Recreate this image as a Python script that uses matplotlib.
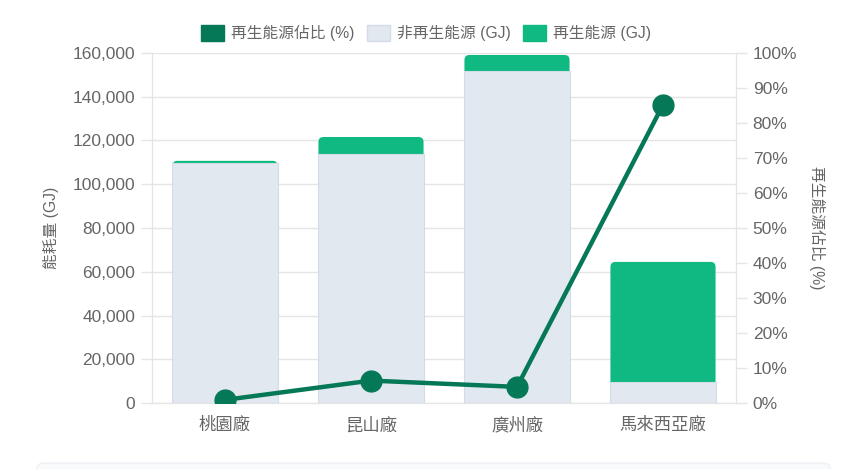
import matplotlib.pyplot as plt
from matplotlib.patches import FancyBboxPatch, Patch
from matplotlib.ticker import FuncFormatter

plt.rcParams['font.family'] = ['Liberation Sans', 'Noto Sans CJK TC', 'DejaVu Sans']

plants = ['桃園廠', '昆山廠', '廣州廠', '馬來西亞廠']
non_renew = [109700, 113800, 151800, 9600]
renew = [1000, 7800, 7300, 54900]
renew_pct = [0.9, 6.4, 4.6, 85.2]

c_non = '#e2e8f0'
c_renew = '#10b981'
c_line = '#047857'
txt = '#666666'
grid = '#e5e5e5'

fig = plt.figure(figsize=(8.52, 4.69), dpi=100)
ax = fig.add_axes([152/852, 1-403/469, (736-152)/852, 350/469])
ax2 = ax.twinx()

x = list(range(len(plants)))
bw = 0.72
ax.bar(x, non_renew, width=bw, color=c_non, edgecolor='#d3dbe6', linewidth=0.8, zorder=3)

# renewable segment with rounded top corners; bottom part hidden under grey bar
px_x = 4 / 584
px_y = 160000 / 350
r = 5 * px_x
for xi, nb, rv in zip(x, non_renew, renew):
    y0 = nb - 6 * px_y
    p = FancyBboxPatch((xi - bw/2, y0), bw, nb + rv - y0,
                       boxstyle=f'round,pad=0,rounding_size={r}',
                       mutation_aspect=px_y / px_x,
                       facecolor=c_renew, edgecolor='none', zorder=2)
    ax.add_patch(p)

ax.set_xlim(-0.5, 3.5)
ax.set_ylim(0, 160000)
ax.set_yticks(range(0, 160001, 20000))
ax.yaxis.set_major_formatter(FuncFormatter(lambda v, p: f'{int(v):,}'))
ax.set_xticks(x)
ax.set_xticklabels(plants)
ax.grid(axis='y', color=grid, linewidth=1, zorder=0)
ax.set_axisbelow(True)

ax2.plot(x, renew_pct, color=c_line, linewidth=3.2, marker='o', markersize=15,
         solid_capstyle='round', zorder=5)
ax2.set_ylim(0, 100)
ax2.set_yticks(range(0, 101, 10))
ax2.yaxis.set_major_formatter(FuncFormatter(lambda v, p: f'{int(v)}%'))
ax.set_zorder(1)
ax2.set_zorder(2)
ax.patch.set_visible(False)

for a in (ax, ax2):
    for s in a.spines.values():
        s.set_color(grid)
    a.spines['top'].set_visible(False)
    a.tick_params(colors=txt, labelsize=12.5, length=8, width=1, pad=4)
    a.tick_params(axis='y', color=grid)
ax.tick_params(axis='x', length=0, pad=10)

ax.set_ylabel('能耗量 (GJ)', color=txt, fontsize=11.3, labelpad=10)
ax2.set_ylabel('再生能源佔比 (%)', color=txt, fontsize=11.3, rotation=270, labelpad=20)

handles = [
    Patch(facecolor=c_line, edgecolor=c_line),
    Patch(facecolor=c_non, edgecolor='#d3dbe6'),
    Patch(facecolor=c_renew, edgecolor=c_renew),
]
labels = ['再生能源佔比 (%)', '非再生能源 (GJ)', '再生能源 (GJ)']
fig.legend(handles, labels, loc='center', bbox_to_anchor=(0.5, 1-33/469), ncol=3,
           frameon=False, fontsize=11.3, labelcolor=txt, handlelength=1.45,
           handleheight=1.2, columnspacing=0.8, handletextpad=0.45)

fig.patches.append(FancyBboxPatch((37/852, -0.05), (830-37)/852, 0.05 + 6/469,
                                  boxstyle='round,pad=0,rounding_size=0.01',
                                  transform=fig.transFigure, facecolor='#f8fafc',
                                  edgecolor='#eef1f5', linewidth=1))

fig.savefig('out.png', dpi=100)
